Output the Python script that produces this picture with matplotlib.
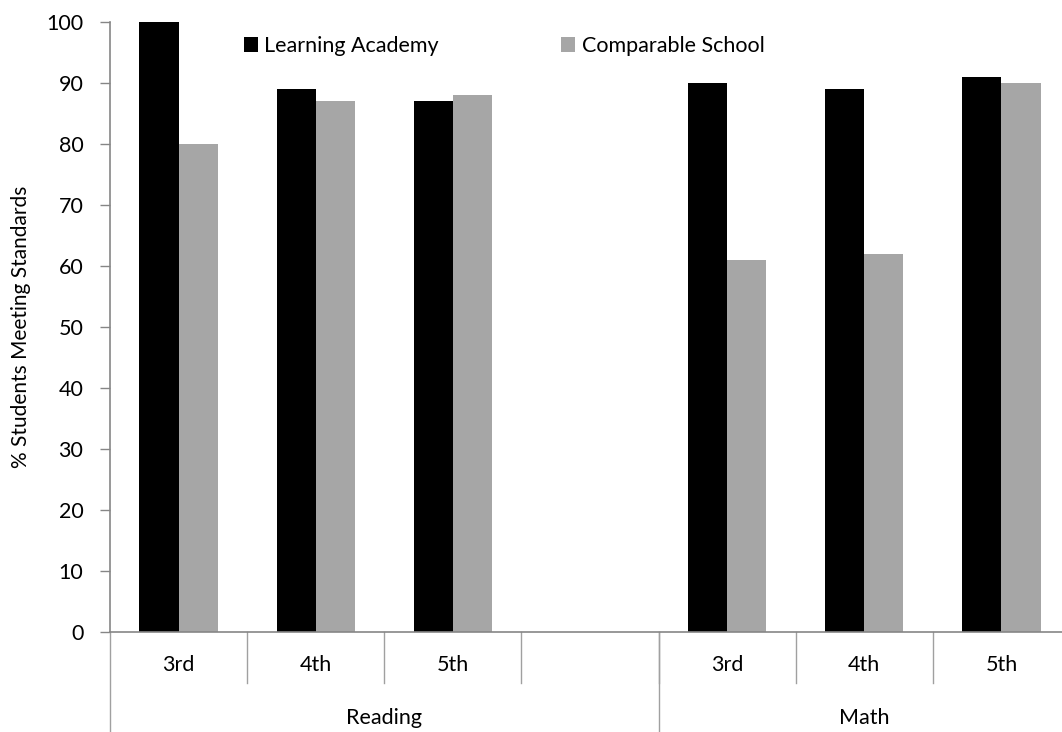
import numpy as np
import matplotlib
matplotlib.use("Agg")
import matplotlib.pyplot as plt
from matplotlib.patches import Patch
import matplotlib.transforms as mtransforms

plt.rcParams['font.family'] = ['Lato', 'DejaVu Sans']

# Data
grades = ["3rd", "4th", "5th", "", "3rd", "4th", "5th"]
subjects = ["Reading", "Math"]
subject_spans = [4, 3]
learning_academy = [100, 89, 87, np.nan, 90, 89, 91]
comparable_school = [80, 87, 88, np.nan, 61, 62, 90]

BLACK = "#000000"
GRAY = "#A6A6A6"
AXIS = "#868686"
FS = 15.5

W, H = 1062, 732
fig = plt.figure(figsize=(W / 100, H / 100), dpi=100)
left_px, right_px, top_px, bottom_px = 110, 1070, 22, 632
ax = fig.add_axes([left_px / W, (H - bottom_px) / H,
                   (right_px - left_px) / W, (bottom_px - top_px) / H])

x = np.arange(len(grades)) + 0.5
bw = 0.285
ax.bar(x - bw / 2, learning_academy, width=bw, color=BLACK, label="Learning Academy")
ax.bar(x + bw / 2, comparable_school, width=bw, color=GRAY, label="Comparable School")

ax.set_xlim(0, len(grades))
ax.set_ylim(0, 100)
ax.set_yticks(np.arange(0, 101, 10))
ax.tick_params(axis='y', length=7.2, width=1, color=AXIS, labelsize=FS, pad=12)
ax.set_xticks([])

for s in ("top", "right"):
    ax.spines[s].set_visible(False)
for s in ("left", "bottom"):
    ax.spines[s].set_color(AXIS)
    ax.spines[s].set_linewidth(1.2)

ax.set_ylabel("% Students Meeting Standards", fontsize=15, labelpad=11)

# Two-level category axis
trans = mtransforms.blended_transform_factory(ax.transData, ax.transAxes)
plot_h = bottom_px - top_px
tick_low = -51 / plot_h
group_low = -(H - bottom_px + 2) / plot_h
label_y = -33 / plot_h
group_label_y = -86 / plot_h

for i in range(1, len(grades)):
    ax.plot([i, i], [0, tick_low], transform=trans, color="#A0A0A0",
            lw=1, clip_on=False)
for i, g in enumerate(grades):
    if g:
        ax.text(i + 0.5, label_y, g, transform=trans, ha="center", va="center",
                fontsize=FS)

start = 0
bounds = [0]
for name, span in zip(subjects, subject_spans):
    ax.text(start + span / 2, group_label_y, name, transform=trans,
            ha="center", va="center", fontsize=FS)
    start += span
    bounds.append(start)
for b in bounds[:-1]:
    ax.plot([b, b], [0, group_low], transform=trans, color="#A0A0A0",
            lw=1, clip_on=False)

handles = [Patch(facecolor=BLACK, label="Learning Academy"),
           Patch(facecolor=GRAY, label="Comparable School")]
ax.legend(handles=handles, loc="center left", bbox_to_anchor=(125 / (right_px - left_px), 1 - 24 / plot_h),
          ncol=2, frameon=False, fontsize=FS, handlelength=0.65, handleheight=0.65,
          handletextpad=0.3, columnspacing=5.7, borderaxespad=0)

fig.savefig("out.png", dpi=100)
